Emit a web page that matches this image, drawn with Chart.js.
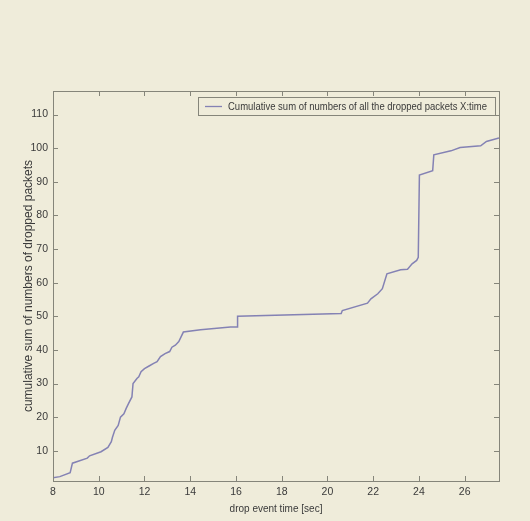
<!DOCTYPE html>
<html>
<head>
<meta charset="utf-8">
<script src="https://cdn.jsdelivr.net/npm/chart.js@4.4.1/dist/chart.umd.min.js"></script>
<style>
  html, body { margin: 0; padding: 0; background: #efecda; }
  #wrap { width: 530px; height: 521px; }
</style>
</head>
<body>
<div id="wrap"><canvas id="dropChart" width="530" height="521"></canvas></div>
<script>
// drop event times [sec] and running total of dropped packets
const dropTime = [8, 8.3, 8.75, 8.85, 9.5, 9.6, 10.1, 10.4, 10.55, 10.6, 10.7, 10.85, 10.95,
  11.1, 11.2, 11.3, 11.45, 11.5, 11.67, 11.75, 11.85, 12.0, 12.2, 12.4, 12.55, 12.7, 12.9,
  13.1, 13.2, 13.35, 13.5, 13.7, 14.45, 15.76, 16.05, 16.07, 20.6, 20.65, 21.75, 21.9, 22.2,
  22.4, 22.6, 23.2, 23.5, 23.7, 23.9, 23.97, 24.02, 24.6, 24.65, 25.4, 25.8, 26.7, 26.95, 27.5];
const droppedCount = [2, 2.3, 3.5, 6.3, 7.8, 8.5, 9.7, 11, 12.7, 14, 16.1, 17.5, 20,
  21, 22.6, 24, 26, 30, 31.5, 32, 33.5, 34.4, 35.2, 36, 36.5, 38, 38.9,
  39.5, 40.8, 41.4, 42.5, 45.3, 46, 46.8, 46.8, 50, 50.8, 51.7, 53.9, 55.2, 56.7,
  58.2, 62.6, 63.8, 64, 65.6, 66.6, 67.5, 92, 93.3, 98, 99.2, 100.2, 100.7, 102, 103];

const xTicks = [8, 10, 12, 14, 16, 18, 20, 22, 24, 26];
const yTicks = [10, 20, 30, 40, 50, 60, 70, 80, 90, 100, 110];
const seriesLabel = 'Cumulative sum of numbers of all the dropped packets X:time';

const axisColor = '#85857a';
const textColor = '#3a3a3a';
const lineColor = '#8482b4';
const fontFamily = '"Liberation Sans", Arial, sans-serif';

// axes box with inward ticks on all four sides, plus the boxed legend
const boxPlugin = {
  id: 'boxPlugin',
  afterDraw(chart) {
    const { ctx, chartArea: a, scales } = chart;
    ctx.save();
    ctx.strokeStyle = axisColor;
    ctx.lineWidth = 1;
    ctx.strokeRect(a.left + 0.5, a.top + 0.5, a.right - a.left, a.bottom - a.top);
    ctx.beginPath();
    xTicks.forEach(v => {
      const px = Math.round(scales.x.getPixelForValue(v)) + 0.5;
      ctx.moveTo(px, a.bottom); ctx.lineTo(px, a.bottom - 5);
      ctx.moveTo(px, a.top); ctx.lineTo(px, a.top + 5);
    });
    yTicks.forEach(v => {
      const py = Math.round(scales.y.getPixelForValue(v)) + 0.5;
      ctx.moveTo(a.left, py); ctx.lineTo(a.left + 5, py);
      ctx.moveTo(a.right, py); ctx.lineTo(a.right - 5, py);
    });
    ctx.stroke();

    // legend
    const lx = 198, ly = 97, lw = 297, lh = 18;
    ctx.fillStyle = '#efecda';
    ctx.fillRect(lx, ly, lw, lh);
    ctx.strokeStyle = axisColor;
    ctx.strokeRect(lx + 0.5, ly + 0.5, lw, lh);
    ctx.strokeStyle = lineColor;
    ctx.lineWidth = 1.3;
    ctx.beginPath();
    ctx.moveTo(205, ly + 9.5); ctx.lineTo(222, ly + 9.5);
    ctx.stroke();
    ctx.fillStyle = textColor;
    ctx.font = '11px ' + fontFamily;
    ctx.textBaseline = 'middle';
    const label = chart.data.datasets[0].label;
    const sx = 259 / ctx.measureText(label).width;
    ctx.translate(228, ly + 10);
    ctx.scale(sx, 1);
    ctx.fillText(label, 0, 0);
    ctx.restore();
  }
};

const ctx = document.getElementById('dropChart').getContext('2d');

new Chart(ctx, {
  type: 'line',
  data: {
    datasets: [{
      label: seriesLabel,
      data: dropTime.map((t, i) => ({ x: t, y: droppedCount[i] })),
      borderColor: lineColor,
      borderWidth: 1.5,
      pointRadius: 0,
      tension: 0,
      fill: false
    }]
  },
  options: {
    responsive: false,
    animation: false,
    layout: { padding: { left: 0, top: 91, right: 31, bottom: 0 } },
    plugins: {
      legend: { display: false },
      tooltip: { enabled: false }
    },
    scales: {
      x: {
        type: 'linear',
        min: 8,
        max: 27.5,
        grid: { display: false, drawTicks: false },
        border: { display: false },
        afterBuildTicks: s => { s.ticks = xTicks.map(v => ({ value: v })); },
        afterFit: s => { s.height = 40; },
        ticks: {
          padding: 5,
          color: textColor,
          font: { family: fontFamily, size: 10.5 }
        },
        title: {
          display: true,
          text: 'drop event time [sec]',
          color: textColor,
          padding: { top: 0, bottom: 6 },
          font: { family: fontFamily, size: 10 }
        }
      },
      y: {
        type: 'linear',
        min: 1,
        max: 117,
        grid: { display: false, drawTicks: false },
        border: { display: false },
        afterBuildTicks: s => { s.ticks = yTicks.map(v => ({ value: v })); },
        afterFit: s => { s.width = 53; },
        ticks: {
          padding: 5,
          color: textColor,
          font: { family: fontFamily, size: 10.5 }
        },
        title: {
          display: true,
          text: 'cumulative sum of numbers of dropped packets',
          color: textColor,
          padding: { top: 21, bottom: 0 },
          font: { family: fontFamily, size: 12 }
        }
      }
    }
  },
  plugins: [boxPlugin]
});
</script>
</body>
</html>
